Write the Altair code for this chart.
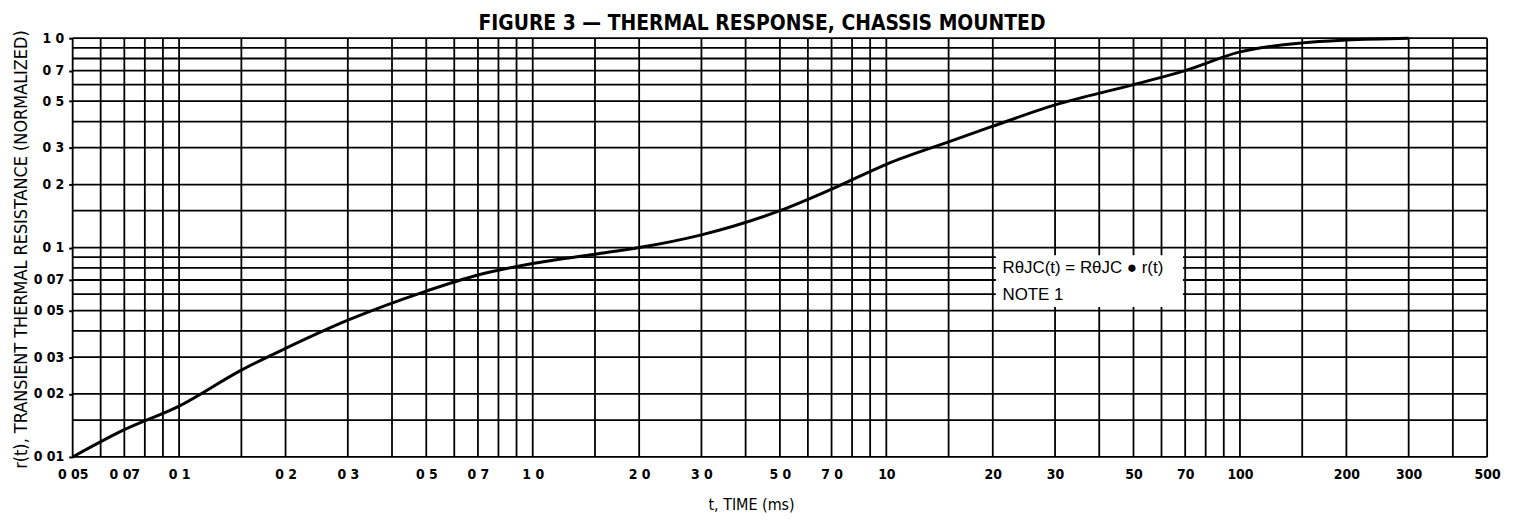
import altair as alt
import pandas as pd

# ---------------- data ----------------
t_ms = [0.05, 0.07, 0.1, 0.15, 0.2, 0.3, 0.5, 0.7, 1.0, 1.5,
        2.0, 3.0, 5.0, 7.0, 10, 15, 20, 30, 50, 70, 100, 150, 200, 300]
r_norm = [0.0100, 0.0135, 0.0175, 0.026, 0.033, 0.045, 0.062, 0.074, 0.084,
          0.093, 0.100, 0.115, 0.150, 0.19, 0.25, 0.32, 0.38, 0.48, 0.60,
          0.70, 0.86, 0.95, 0.98, 1.0]

x_ticks = [0.05, 0.07, 0.1, 0.2, 0.3, 0.5, 0.7, 1, 2, 3, 5, 7, 10, 20, 30, 50,
           70, 100, 200, 300, 500]
x_tick_labels = ["0 05", "0 07", "0 1", "0 2", "0 3", "0 5", "0 7", "1 0",
                 "2 0", "3 0", "5 0", "7 0", "10", "20", "30", "50", "70",
                 "100", "200", "300", "500"]
y_ticks = [0.01, 0.02, 0.03, 0.05, 0.07, 0.1, 0.2, 0.3, 0.5, 0.7, 1.0]
y_tick_labels = ["0 01", "0 02", "0 03", "0 05", "0 07", "0 1", "0 2", "0 3",
                 "0 5", "0 7", "1 0"]

x_grid = [0.05, 0.06, 0.07, 0.08, 0.09,
          0.1, 0.15, 0.2, 0.3, 0.4, 0.5, 0.6, 0.7, 0.8, 0.9,
          1, 1.5, 2, 3, 4, 5, 6, 7, 8, 9,
          10, 15, 20, 30, 40, 50, 60, 70, 80, 90,
          100, 150, 200, 300, 400, 500]
y_grid = [0.01, 0.015, 0.02, 0.03, 0.04, 0.05, 0.06, 0.07, 0.08, 0.09,
          0.1, 0.15, 0.2, 0.3, 0.4, 0.5, 0.6, 0.7, 0.8, 0.9, 1.0]

note_lines = ["R\u03b8JC(t) = R\u03b8JC \u25cf r(t)", "NOTE 1"]
note_t = [21.3, 21.3]
note_r = [0.080, 0.0595]
note_box_t = [20.4, 69]
note_box_r = [0.052, 0.092]

title_text = "FIGURE 3 \u2014 THERMAL RESPONSE, CHASSIS MOUNTED"
x_title = "t, TIME (ms)"
y_title = "r(t), TRANSIENT THERMAL RESISTANCE (NORMALIZED)"

# ---------------- chart ----------------
FONT = "Liberation Sans Narrow, DejaVu Sans Condensed, Arial Narrow, Liberation Sans, sans-serif"
NOTE_FONT = "Liberation Sans, Arial, sans-serif"

curve_df = pd.DataFrame({"t": t_ms, "r": r_norm})
xg_df = pd.DataFrame({"g": x_grid})
yg_df = pd.DataFrame({"g": y_grid})
note_df = pd.DataFrame({"t": note_t, "r": note_r, "label": note_lines})
box_df = pd.DataFrame({"t1": [note_box_t[0]], "t2": [note_box_t[1]],
                       "r1": [note_box_r[0]], "r2": [note_box_r[1]]})

x_scale = alt.Scale(type="log", domain=[0.05, 500], nice=False, zero=False)
y_scale = alt.Scale(type="log", domain=[0.01, 1.0], nice=False, zero=False)


def lab_expr(vals, labs):
    v = ",".join(repr(float(a)) for a in vals)
    l = ",".join("'" + s + "'" for s in labs)
    return "[" + l + "][indexof([" + v + "], datum.value)]"


x_axis = alt.Axis(values=x_ticks, labelExpr=lab_expr(x_ticks, x_tick_labels),
                  grid=False, domain=False, ticks=False, labelPadding=11,
                  labelFont=FONT, labelFontSize=14, labelFontWeight="bold",
                  labelColor="black", labelFlush=False, labelOverlap=False,
                  title=x_title, titleFont=FONT, titleFontSize=16,
                  titleFontWeight="normal", titleColor="black",
                  titleX=682, titleY=48, titleBaseline="middle",
                  titleAlign="center")
y_axis = alt.Axis(values=y_ticks, labelExpr=lab_expr(y_ticks, y_tick_labels),
                  grid=False, domain=False, ticks=True, tickSize=4,
                  tickWidth=2, tickColor="black", labelPadding=5,
                  labelFont=FONT, labelFontSize=14, labelFontWeight="bold",
                  labelColor="black", labelFlush=False, labelOverlap=False,
                  title=y_title, titleFont=FONT, titleFontSize=18,
                  titleFontWeight="normal", titleColor="black",
                  titleX=-51, titleY=212, titleAngle=270,
                  titleBaseline="middle", titleAlign="center")

vgrid = alt.Chart(xg_df).mark_rule(color="black", strokeWidth=1.8).encode(
    x=alt.X("g:Q", scale=x_scale, axis=x_axis)
)
hgrid = alt.Chart(yg_df).mark_rule(color="black", strokeWidth=1.8).encode(
    y=alt.Y("g:Q", scale=y_scale, axis=y_axis)
)
box = alt.Chart(box_df).mark_rect(color="white").encode(
    x=alt.X("t1:Q", scale=x_scale, axis=x_axis), x2="t2:Q",
    y=alt.Y("r1:Q", scale=y_scale, axis=y_axis), y2="r2:Q",
)
note = alt.Chart(note_df).mark_text(align="left", baseline="middle",
                                    font=NOTE_FONT, fontSize=17,
                                    color="black").encode(
    x=alt.X("t:Q", scale=x_scale, axis=x_axis),
    y=alt.Y("r:Q", scale=y_scale, axis=y_axis),
    text="label:N",
)
curve = alt.Chart(curve_df).mark_line(color="black", strokeWidth=3,
                                      interpolate="monotone").encode(
    x=alt.X("t:Q", scale=x_scale, axis=x_axis),
    y=alt.Y("r:Q", scale=y_scale, axis=y_axis),
)

chart = alt.layer(vgrid, hgrid, box, note, curve).properties(
    width=1422, height=421,
    title=alt.TitleParams(title_text, font=FONT, fontSize=21, fontWeight="bold",
                          anchor="middle", frame="group", offset=0, dx=-18,
                          dy=4, color="black"),
    autosize=alt.AutoSizeParams(type="none"),
    padding={"left": 65, "top": 29, "right": 22, "bottom": 60},
).configure_view(stroke="black", strokeWidth=3).configure(background="white")

chart.save("out.html", embed_options={"renderer": "svg", "actions": False})
